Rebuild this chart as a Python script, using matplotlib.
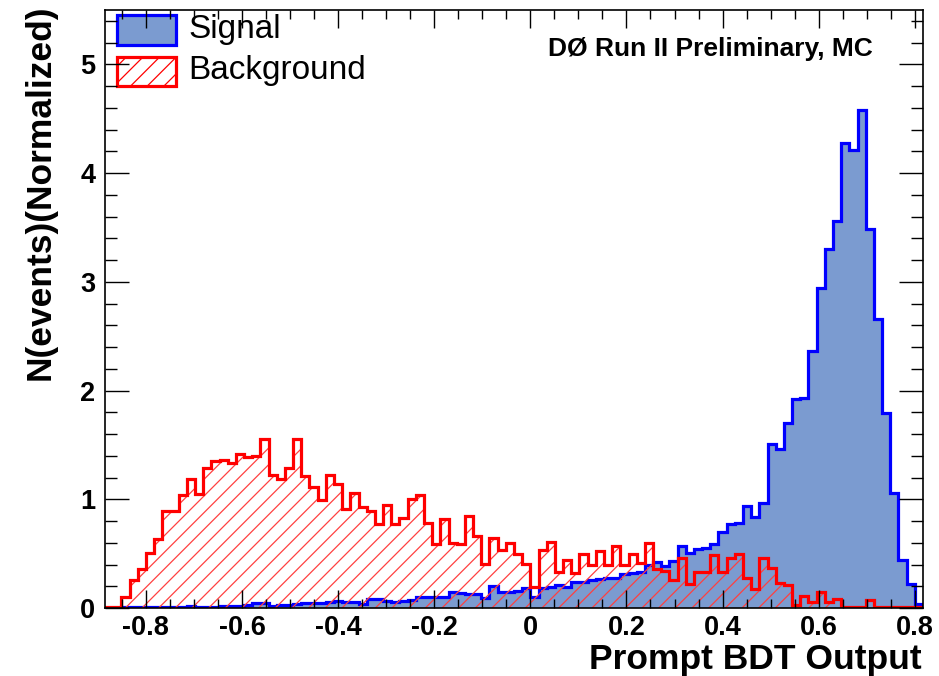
import numpy as np
import matplotlib
matplotlib.use("Agg")
import matplotlib.pyplot as plt
from matplotlib.patches import Rectangle
from matplotlib.ticker import MultipleLocator

plt.rcParams['font.family'] = ['Liberation Sans', 'DejaVu Sans']
plt.rcParams['hatch.linewidth'] = 0.9

# histogram range and bins (100 bins over the axis range)
x_lo, x_hi = -0.885, 0.817
n_bins = 100

# signal, normalized
sig = [0.004, 0.004, 0.005, 0.005, 0.005, 0.005, 0.005, 0.005, 0.010, 0.010,
       0.020, 0.012, 0.012, 0.013, 0.018, 0.018, 0.020, 0.030, 0.045, 0.045,
       0.020, 0.030, 0.030, 0.035, 0.045, 0.045, 0.050, 0.055, 0.067, 0.058,
       0.058, 0.037, 0.080, 0.080, 0.060, 0.058, 0.062, 0.074, 0.105, 0.105,
       0.100, 0.105, 0.144, 0.135, 0.130, 0.130, 0.095, 0.200, 0.144, 0.150,
       0.160, 0.180, 0.098, 0.187, 0.190, 0.210, 0.190, 0.240, 0.240, 0.260,
       0.270, 0.280, 0.280, 0.310, 0.320, 0.330, 0.400, 0.420, 0.390, 0.430,
       0.570, 0.510, 0.540, 0.550, 0.590, 0.700, 0.770, 0.780, 0.940, 0.840,
       0.970, 1.510, 1.460, 1.700, 1.920, 1.930, 2.360, 2.940, 3.300, 3.560,
       4.280, 4.210, 4.580, 3.490, 2.660, 1.790, 1.060, 0.440, 0.220, 0.040]

# background, normalized
bkg = [0.010, 0.010, 0.100, 0.260, 0.360, 0.510, 0.635, 0.890, 0.890, 1.040,
       1.190, 1.050, 1.290, 1.350, 1.360, 1.330, 1.420, 1.390, 1.400, 1.550,
       1.220, 1.185, 1.290, 1.550, 1.215, 1.110, 0.995, 1.220, 1.140, 0.910,
       1.056, 0.925, 0.893, 0.770, 0.948, 0.774, 0.825, 1.005, 1.035, 0.785,
       0.590, 0.820, 0.600, 0.590, 0.845, 0.665, 0.405, 0.640, 0.530, 0.600,
       0.500, 0.405, 0.190, 0.530, 0.610, 0.335, 0.440, 0.320, 0.500, 0.400,
       0.525, 0.400, 0.574, 0.400, 0.497, 0.410, 0.595, 0.360, 0.340, 0.258,
       0.463, 0.218, 0.334, 0.334, 0.490, 0.334, 0.457, 0.494, 0.273, 0.175,
       0.463, 0.370, 0.227, 0.210, 0.028, 0.110, 0.058, 0.150, 0.058, 0.083,
       0.012, 0.005, 0.005, 0.074, 0.005, 0.005, 0.005, 0.005, 0.005, 0.005]

x_ticks = [-0.8, -0.6, -0.4, -0.2, 0.0, 0.2, 0.4, 0.6, 0.8]
x_tick_labels = ["-0.8", "-0.6", "-0.4", "-0.2", "0", "0.2", "0.4", "0.6", "0.8"]
y_ticks = [0, 1, 2, 3, 4, 5]

edges = np.linspace(x_lo, x_hi, n_bins + 1)

fill_col = "#7b9bd0"

fig = plt.figure(figsize=(9.39, 6.76), dpi=100)
ax = fig.add_axes([105/939, 68/676, 818/939, 598/676])

# signal
ax.stairs(sig, edges, fill=True, color=fill_col, lw=0)
ax.stairs(sig, edges, color="#0000ff", lw=2.3)
# background (hatched)
ax.stairs(bkg, edges, fill=True, facecolor="none", edgecolor="#ff4040", hatch="//", lw=0)
ax.stairs(bkg, edges, color="#ff0000", lw=2.3)

ax.set_xlim(x_lo, x_hi)
ax.set_ylim(0, 5.5)

ax.set_xticks(x_ticks)
ax.set_xticklabels(x_tick_labels)
ax.set_yticks(y_ticks)
ax.xaxis.set_minor_locator(MultipleLocator(0.05))
ax.yaxis.set_minor_locator(MultipleLocator(0.2))

ax.tick_params(axis="x", which="major", direction="in", top=True, length=13, width=1, pad=5)
ax.tick_params(axis="x", which="minor", direction="in", top=True, length=6.5, width=1)
ax.tick_params(axis="y", which="major", direction="in", right=True, length=17.5, width=1, pad=7)
ax.tick_params(axis="y", which="minor", direction="in", right=True, length=8.8, width=1)
for lab in ax.get_xticklabels() + ax.get_yticklabels():
    lab.set_fontsize(19.5)
    lab.set_fontweight("bold")
for sp in ax.spines.values():
    sp.set_linewidth(1.2)

# axis titles
fig.text(922/939, 1 - 659/676, "Prompt BDT Output", ha="right", va="center",
         fontsize=25.5, fontweight="bold")
fig.text(40/939, 1 - 4/676, "N(events)(Normalized)", rotation=90, ha="center", va="top",
         fontsize=25.5, fontweight="bold")

# legend by hand
ax.add_patch(Rectangle((0.0147, 0.9415), 0.072, 0.050, transform=ax.transAxes,
                       facecolor=fill_col, edgecolor="#0000ff", lw=2.3, clip_on=False))
ax.add_patch(Rectangle((0.0147, 0.8729), 0.072, 0.049, transform=ax.transAxes,
                       facecolor="white", edgecolor="#ff0000", hatch="//", lw=2.3, clip_on=False))
ax.text(0.1015, 0.9666, "Signal", transform=ax.transAxes, ha="left", va="center", fontsize=24)
ax.text(0.1015, 0.898, "Background", transform=ax.transAxes, ha="left", va="center", fontsize=24)

ax.text(0.939, 0.935, "DØ Run II Preliminary, MC", transform=ax.transAxes,
        ha="right", va="center", fontsize=19, fontweight="bold")

fig.savefig("out.png", dpi=100)
